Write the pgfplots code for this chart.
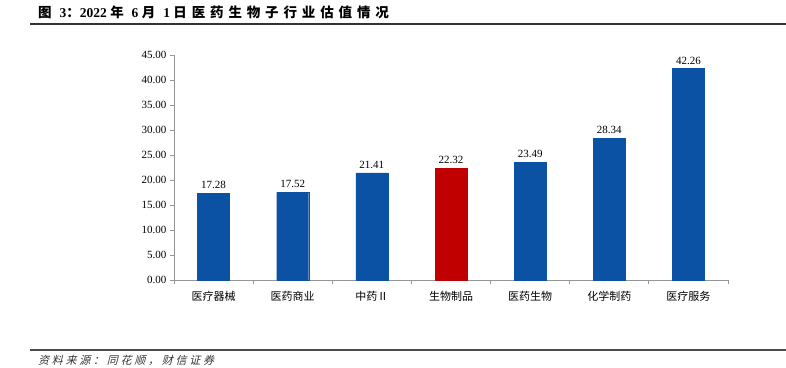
\documentclass[border=0pt]{standalone}
\usepackage{fontspec}
\setmainfont{Liberation Serif}
\newfontfamily\cjk{Noto Sans CJK SC}
\newfontfamily\cjkt[LetterSpace=36]{Noto Sans CJK SC}
\newfontfamily\cjkit[FakeSlant=0.25,LetterSpace=25]{Noto Sans CJK SC}
\usepackage{pgfplots}
\pgfplotsset{compat=1.18}
\definecolor{barblue}{RGB}{11,82,165}
\definecolor{barred}{RGB}{192,0,0}
\definecolor{axgray}{RGB}{150,150,150}
\begin{document}
\begin{tikzpicture}[x=1pt,y=1pt]
\useasboundingbox (0,0) rectangle (786,367);
\node[anchor=west,font=\fontsize{13.5}{15}\selectfont\bfseries, inner sep=0] at (38,355) {{\cjkt\bfseries 图 }3{\cjkt\bfseries ：}2022 {\cjkt\bfseries 年 }6 {\cjkt\bfseries 月 }1 {\cjkt\bfseries 日医药生物子行业估值情况}};
\draw[line width=1.5pt, black!80] (30,343) -- (786,343);
\draw[line width=1.2pt, black!70] (30,17) -- (786,17);
\node[anchor=west, font=\fontsize{11}{12}\selectfont\cjkit, black!80, inner sep=0] at (38,7) {资料来源：同花顺，财信证券};
\begin{axis}[
  at={(174pt,87pt)}, anchor=south west,
  scale only axis, width=554pt, height=225pt,
  xmin=-0.5, xmax=6.5, ymin=0, ymax=45,
  ytick={0,5,...,45},
  xtick={0,...,6},
  xticklabels={医疗器械,医药商业,中药Ⅱ,生物制品,医药生物,化学制药,医疗服务},
  minor xtick={-0.5,0.5,...,6.5},
  axis x line*=bottom, axis y line*=left,
  axis line style={-, axgray, line width=0.8pt},
  tick align=outside,
  major tick length=4pt, minor tick length=4pt,
  x tick style={draw=none},
  minor x tick style={draw=axgray, line width=0.8pt},
  y tick style={draw=axgray, line width=0.8pt},
  yticklabel style={/pgf/number format/.cd, fixed, fixed zerofill, precision=2, assume math mode=true},
  ticklabel style={font=\fontsize{11}{12}\selectfont},
  xticklabel style={font=\cjk\fontsize{11}{12}\selectfont, yshift=-4pt},
  ybar, bar width=32pt, bar shift=0pt,
  nodes near coords,
  every node near coord/.append style={font=\fontsize{11}{12}\selectfont, yshift=1pt,
     /pgf/number format/.cd, fixed, fixed zerofill, precision=2, assume math mode=true},
]
\addplot[fill=barblue, draw=barblue] coordinates {(0,17.28) (1,17.52) (2,21.41) (4,23.49) (5,28.34) (6,42.26)};
\addplot[fill=barred, draw=barred] coordinates {(3,22.32)};
\end{axis}
\end{tikzpicture}
\end{document}
